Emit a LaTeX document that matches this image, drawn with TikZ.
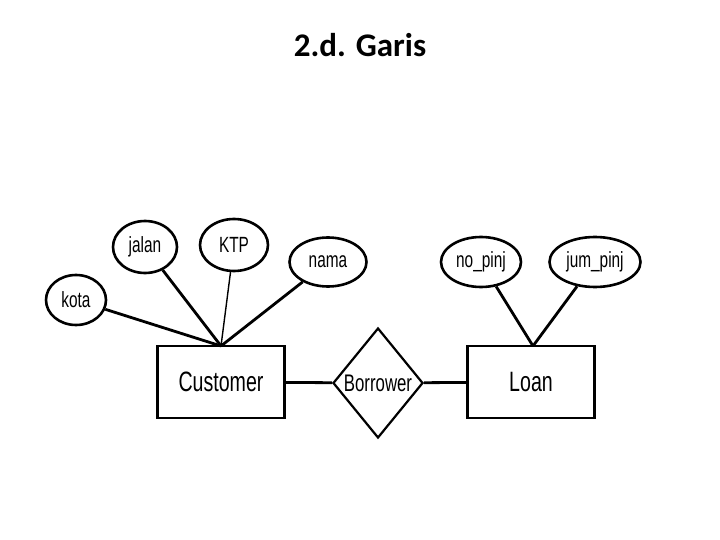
\documentclass[tikz,border=0pt]{standalone}
\usepackage{fontspec}
\setmainfont{Liberation Sans}
\newfontfamily\titlefont{Carlito}
\usetikzlibrary{shapes.geometric}
\newcommand{\nar}[1]{\scalebox{0.7}[1]{#1}}
\begin{document}
\begin{tikzpicture}[x=1pt,y=-1pt,
  attr/.style={ellipse,draw,line width=2.6pt,inner sep=0pt,font=\fontsize{22}{22}\selectfont},
  ent/.style={rectangle,draw,line width=2.2pt,minimum width=127pt,minimum height=72pt,font=\fontsize{28}{28}\selectfont},
  rel/.style={diamond,draw,line width=2.2pt,minimum width=90pt,minimum height=110pt,inner sep=0pt,font=\fontsize{24}{24}\selectfont},
  ln/.style={line width=2.8pt}]
\useasboundingbox (0,0) rectangle (720,540);
\node[font=\titlefont\bfseries\fontsize{33}{33}\selectfont] (t) at (360,45) {2.d. Garis};
\node[ent] (c) at (221,382) {\nar{Customer}};
\node[rel] (b) at (378,383) {\nar{Borrower}};
\node[ent] (l) at (531,382) {\nar{Loan}};
\node[attr,minimum width=60pt,minimum height=50pt] (kota) at (76,300) {\nar{kota}};
\node[attr,minimum width=64pt,minimum height=52pt] (jalan) at (145,247) {\nar{jalan}};
\node[attr,minimum width=68pt,minimum height=52pt] (ktp) at (234,245) {\nar{KTP}};
\node[attr,minimum width=77pt,minimum height=49pt] (nama) at (328,262) {\nar{nama}};
\node[attr,minimum width=80pt,minimum height=50pt] (np) at (481,262) {\nar{no\_pinj}};
\node[attr,minimum width=91pt,minimum height=50pt] (jp) at (595,262) {\nar{jum\_pinj}};
\coordinate (ct) at (221,346);
\coordinate (lt) at (533,346);
\draw[ln] (kota) -- (ct);
\draw[ln] (jalan) -- (ct);
\draw[line width=1.4pt] (ktp) -- (ct);
\draw[ln] (nama) -- (ct);
\draw[ln] (np) -- (lt);
\draw[ln] (jp) -- (lt);
\draw[ln] (c) -- (b);
\draw[ln] (b) -- (l);
\end{tikzpicture}
\end{document}
